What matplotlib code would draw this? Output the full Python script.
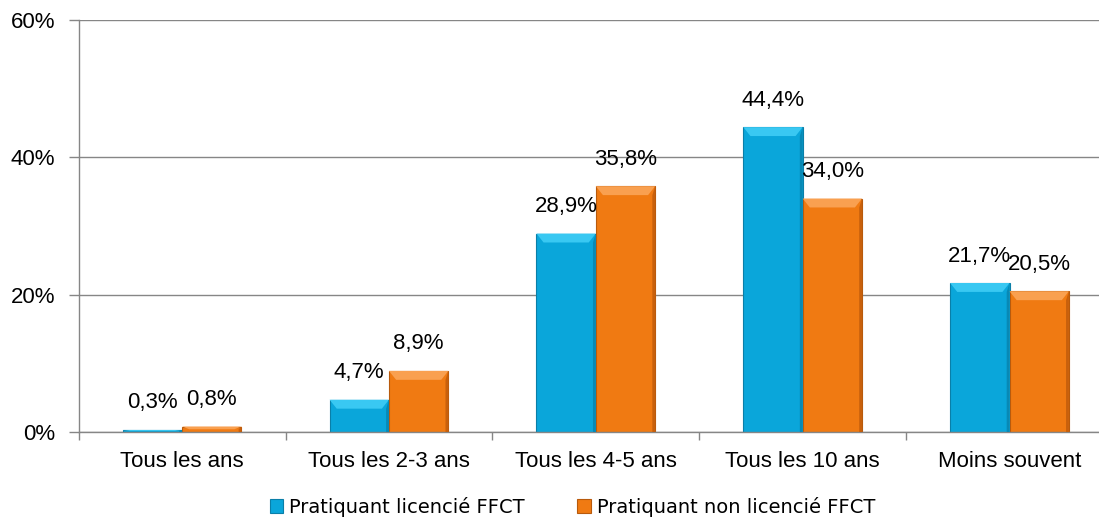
import numpy as np
import matplotlib.pyplot as plt
from matplotlib.patches import Polygon
from matplotlib.ticker import FixedLocator

categories = ["Tous les ans", "Tous les 2-3 ans", "Tous les 4-5 ans", "Tous les 10 ans", "Moins souvent"]
licencie = [0.3, 4.7, 28.9, 44.4, 21.7]
non_licencie = [0.8, 8.9, 35.8, 34.0, 20.5]
series_names = ["Pratiquant licencié FFCT", "Pratiquant non licencié FFCT"]

blue = "#0AA6DA"
orange = "#F07A12"
grey = "#868686"

plt.rcParams['font.family'] = ['Liberation Sans', 'DejaVu Sans']

fig = plt.figure(figsize=(10.99, 5.28), dpi=100)
# l'axe dépasse un peu à droite, comme dans l'original
ax = fig.add_axes([0.0716, 0.1818, 0.9411, 0.7803])

x = np.arange(len(categories))
w = 0.287


def bevel(ax, bars, light, dark):
    # petit effet de biseau en haut et sur le côté droit
    for b in bars:
        x0, y0 = b.get_x(), b.get_y()
        bw, bh = b.get_width(), b.get_height()
        if bh <= 0:
            continue
        dx = bw * 0.12
        dy = min(bh * 0.5, 1.3)
        ax.add_patch(Polygon([(x0, y0 + bh), (x0 + bw, y0 + bh), (x0 + bw - dx, y0 + bh - dy), (x0 + dx, y0 + bh - dy)],
                             closed=True, facecolor=light, edgecolor="none", zorder=3))
        ax.add_patch(Polygon([(x0 + bw, y0), (x0 + bw, y0 + bh), (x0 + bw - dx * 0.4, y0 + bh - dy), (x0 + bw - dx * 0.4, y0)],
                             closed=True, facecolor=dark, edgecolor="none", zorder=3))


b1 = ax.bar(x - w / 2, licencie, w, color=blue, edgecolor="#0A7FA8", linewidth=0.8, zorder=2, label=series_names[0])
b2 = ax.bar(x + w / 2, non_licencie, w, color=orange, edgecolor="#B85A0C", linewidth=0.8, zorder=2, label=series_names[1])
bevel(ax, b1, "#39C8F2", "#0889B5")
bevel(ax, b2, "#F9A050", "#C8600C")

for xi, v in zip(x - w / 2, licencie):
    ax.text(xi, v + 2.4, f"{v:.1f}%".replace(".", ","), ha="center", va="bottom", fontsize=16, zorder=5)
for xi, v in zip(x + w / 2, non_licencie):
    ax.text(xi, v + 2.4, f"{v:.1f}%".replace(".", ","), ha="center", va="bottom", fontsize=16, zorder=5)

ax.set_xlim(-0.5, len(categories) - 0.5)
ax.set_ylim(0, 60)
ax.set_yticks([0, 20, 40, 60])
ax.set_yticklabels(["0%", "20%", "40%", "60%"], fontsize=16)
ax.set_xticks(x)
ax.set_xticklabels(categories, fontsize=16)
ax.xaxis.set_minor_locator(FixedLocator(np.arange(len(categories) + 1) - 0.5))
ax.tick_params(axis="x", which="major", length=0, pad=14)
ax.tick_params(axis="x", which="minor", length=6, color=grey, width=1)
ax.tick_params(axis="y", length=7, color=grey, width=1, pad=10)

ax.grid(axis="y", color=grey, linewidth=1, zorder=0)
for s in ["top", "right"]:
    ax.spines[s].set_visible(False)
for s in ["left", "bottom"]:
    ax.spines[s].set_color(grey)
    ax.spines[s].set_linewidth(1)

leg = fig.legend(handles=[b1, b2], labels=series_names, loc="lower center", bbox_to_anchor=(0.521, -0.012),
                 ncol=2, frameon=False, handlelength=0.7, handleheight=0.7, handletextpad=0.3, columnspacing=2.7,
                 prop={"family": ["DejaVu Sans"], "size": 14})

fig.savefig("out.png", dpi=100)
